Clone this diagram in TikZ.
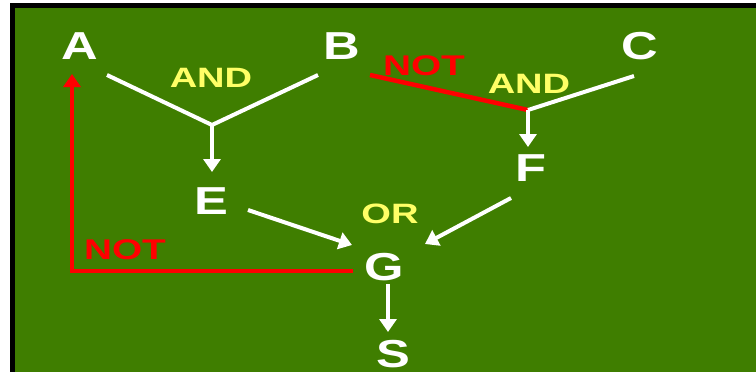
\documentclass[tikz,border=0pt]{standalone}
\usepackage{fontspec}
\usetikzlibrary{arrows.meta}
\newfontfamily\diagfont{Liberation Sans Bold}[FakeStretch=1.3]
\newfontfamily\gatefont{Liberation Sans Bold}[FakeStretch=1.36]
\definecolor{diaggreen}{RGB}{63,126,0}
\definecolor{gateyellow}{RGB}{255,255,102}
\definecolor{negred}{RGB}{255,0,0}
\begin{document}
\begin{tikzpicture}[x=1pt,y=-1pt,
  letter/.style={text=white,inner sep=0pt,font=\diagfont\fontsize{39}{39}\selectfont},
  gate/.style={text=gateyellow,inner sep=0pt,font=\gatefont\fontsize{28}{28}\selectfont},
  neglabel/.style={text=negred,inner sep=0pt,font=\gatefont\fontsize{28.5}{28.5}\selectfont},
  wire/.style={white,line width=4pt},
  arrowwire/.style={wire,-{Triangle[length=13pt,width=17pt]}},
  negwire/.style={negred,line width=4.5pt},
  negarrow/.style={negwire,-{Triangle[length=13pt,width=17pt]}}]
\clip (0,0) rectangle (756,372);
% board
\fill[diaggreen] (12.5,5.5) rectangle (780,400);
\draw[black,line width=5pt] (12.5,5.5) rectangle (780,400);

% inputs, intermediate results and output
\node[letter] (A) at (80,46) {A};
\node[letter] (B) at (342,46) {B};
\node[letter] (C) at (640,46) {C};
\node[letter] (E) at (211,201) {E};
\node[letter] (F) at (531,168) {F};
\node[letter] (G) at (384,267) {G};
\node[letter] (S) at (393,354) {S};

% gate labels
\node[gate] (and1) at (211,78) {AND};
\node[gate] (and2) at (529,84) {AND};
\node[gate] (or) at (390,214) {OR};
\node[neglabel] (not1) at (424,66) {NOT};
\node[neglabel] (not2) at (125,250) {NOT};

% wire end points
\coordinate (aOut) at (107,75);
\coordinate (bOut) at (318,75);
\coordinate (bNeg) at (370,75);
\coordinate (cOut) at (634,76);
\coordinate (j1) at (212,125);
\coordinate (j2) at (528,110);
\coordinate (eIn) at (212,172);
\coordinate (fIn) at (528,147);
\coordinate (eOut) at (248,210);
\coordinate (fOut) at (511,198);
\coordinate (gInL) at (352,245);
\coordinate (gInR) at (425,244);
\coordinate (gOut) at (388,284);
\coordinate (sIn) at (388,332);
\coordinate (gNeg) at (353,271);
\coordinate (aIn) at (72,74);

% A AND B -> E
\draw[wire] (aOut) -- (j1) -- (bOut);
\draw[arrowwire] (j1) -- (eIn);
% (NOT B) AND C -> F
\draw[negwire] (bNeg) -- (j2);
\draw[wire] (j2) -- (cOut);
\draw[arrowwire] (j2) -- (fIn);
% E OR F -> G
\draw[arrowwire] (eOut) -- (gInL);
\draw[arrowwire] (fOut) -- (gInR);
% G -> S
\draw[arrowwire] (gOut) -- (sIn);
% feedback NOT G -> A
\draw[negarrow] (gNeg) -| (aIn);
\end{tikzpicture}
\end{document}
